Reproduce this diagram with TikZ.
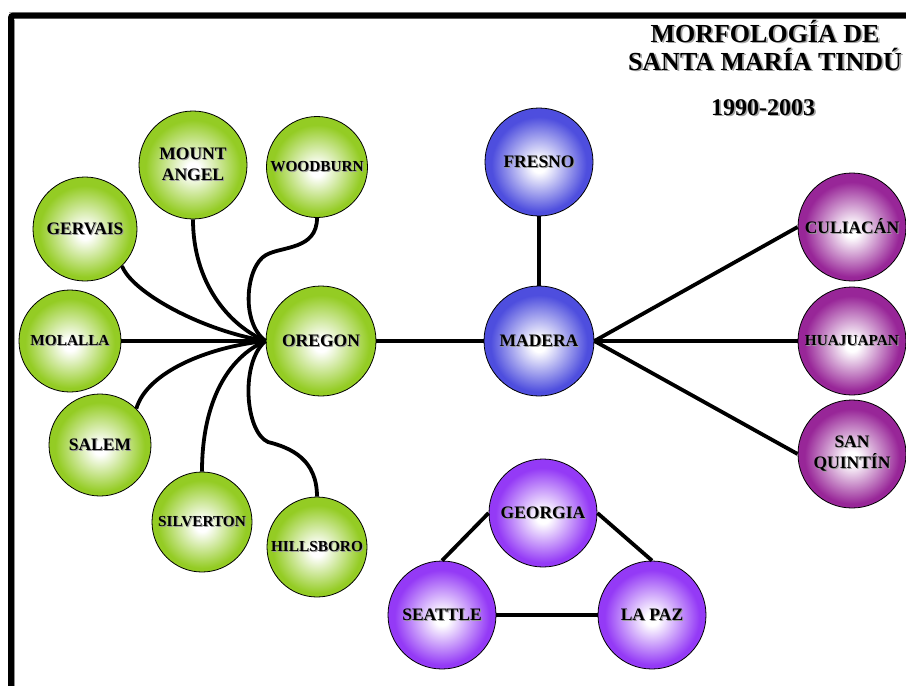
\documentclass[tikz,border=0pt]{standalone}
\usepackage{fontspec}
\setmainfont{Liberation Serif}
\usetikzlibrary{arrows.meta}

\definecolor{ballgreen}{RGB}{148,204,36}
\definecolor{ballblue}{RGB}{78,78,222}
\definecolor{ballmagenta}{RGB}{152,38,152}
\definecolor{ballviolet}{RGB}{148,58,246}

% radial fills: white core, saturated rim
\newcommand\ballshading[2]{%
  \pgfdeclareradialshading{#1}{\pgfpoint{0bp}{-2bp}}{%
    color(0bp)=(white); color(3bp)=(white);
    color(22bp)=(#2); color(25bp)=(#2); color(50bp)=(#2)}}
\ballshading{greenfill}{ballgreen}
\ballshading{bluefill}{ballblue}
\ballshading{magentafill}{ballmagenta}
\ballshading{violetfill}{ballviolet}

% bold caption with a soft grey drop shadow
\newcommand\shd[1]{\makebox[0pt][l]{\kern1pt\raisebox{-1pt}{\textcolor{black!40}{#1}}}#1}
\newcommand\bigshd[1]{\makebox[0pt][l]{\kern1.8pt\raisebox{-1.8pt}{\textcolor{black!35}{#1}}}#1}

\begin{document}
\begin{tikzpicture}[x=1pt,y=-1pt,
  city/.style={circle, draw=black, line width=0.8pt, inner sep=0pt, align=center,
    font=\bfseries\fontsize{17.5}{21}\selectfont},
  small/.style={font=\bfseries\fontsize{15.3}{19}\selectfont},
  gball/.style={city, shading=greenfill},
  bball/.style={city, shading=bluefill},
  mball/.style={city, shading=magentafill},
  vball/.style={city, shading=violetfill},
  conn/.style={line width=3.8pt, black},
  tip/.style={-{Triangle[length=5pt,width=6pt]}},
  titletext/.style={anchor=base, font=\bfseries\fontsize{26}{28}\selectfont}]
\useasboundingbox (0,0) rectangle (906,686);

% frame
\draw[black!35, line width=1pt] (14.8,686) -- (14.8,20);
\draw[black!35, line width=1pt] (9,12.3) -- (906,12.3);
\draw[line width=6pt, rounded corners=2pt] (11,690) -- (11,15.7) -- (910,15.7);

% title
\node[titletext] (t1) at (765,42) {\bigshd{MORFOLOGÍA DE}};
\node[titletext] (t2) at (765,70) {\bigshd{SANTA MARÍA TINDÚ}};
\node[titletext, font=\bfseries\fontsize{24}{26}\selectfont] (t3) at (763,115) {\bigshd{1990-2003}};

% Oregon cluster
\node[gball, minimum size=110pt] (oregon) at (321,341) {\shd{OREGON}};
\node[gball, minimum size=108pt] (mountangel) at (193,165) {\shd{MOUNT}\\\shd{ANGEL}};
\node[gball, small, minimum size=101pt] (woodburn) at (317,167) {\shd{WOODBURN}};
\node[gball, minimum size=104pt] (gervais) at (85,229) {\shd{GERVAIS}};
\node[gball, small, minimum size=102pt] (molalla) at (70,341) {\shd{MOLALLA}};
\node[gball, minimum size=102pt] (salem) at (100,445) {\shd{SALEM}};
\node[gball, small, minimum size=100pt] (silverton) at (202,522) {\shd{SILVERTON}};
\node[gball, small, minimum size=100pt] (hillsboro) at (317,547) {\shd{HILLSBORO}};

% California
\node[bball, minimum size=110pt] (madera) at (539,341) {\shd{MADERA}};
\node[bball, minimum size=108pt] (fresno) at (539,162) {\shd{FRESNO}};

% Mexico
\node[mball, minimum size=108pt] (culiacan) at (852,227) {\shd{CULIACÁN}};
\node[mball, small, minimum size=108pt] (huajuapan) at (852,341) {\shd{HUAJUAPAN}};
\node[mball, minimum size=108pt] (sanquintin) at (852,454) {\shd{SAN}\\\shd{QUINTÍN}};

% triangle
\node[vball, minimum size=108pt] (georgia) at (543,513) {\shd{GEORGIA}};
\node[vball, minimum size=108pt] (seattle) at (442,615) {\shd{SEATTLE}};
\node[vball, minimum size=108pt] (lapaz) at (652,615) {\shd{LA PAZ}};

% connectors into Oregon
\draw[conn, tip] (molalla) -- (oregon.west);
\draw[conn] (gervais.-45) .. controls (132,292) and (200,330) .. (oregon.west);
\draw[conn] (mountangel.south) .. controls (193,282) and (228,325) .. (oregon.west);
\draw[conn] (woodburn.south) .. controls (317,250) and (282,246) .. (266,255)
  .. controls (246,266) and (240,322) .. (oregon.west);
\draw[conn] (salem.45) .. controls (147,372) and (208,347) .. (oregon.west);
\draw[conn] (silverton.north) .. controls (202,402) and (228,357) .. (oregon.west);
\draw[conn] (hillsboro.north) .. controls (317,460) and (292,448) .. (268,442)
  .. controls (245,432) and (240,362) .. (oregon.west);

% Oregon - Madera - Fresno
\draw[conn] (oregon) -- (madera);
\draw[conn] (fresno) -- (madera);

% Madera fan
\draw[conn] (culiacan.west) -- (madera.east);
\draw[conn, tip] (huajuapan) -- (madera.east);
\draw[conn] (sanquintin.west) -- (madera.east);

% triangle links
\draw[conn] (georgia.west) -- (seattle.north);
\draw[conn] (georgia.east) -- (lapaz.north);
\draw[conn] (seattle) -- (lapaz);
\end{tikzpicture}
\end{document}
